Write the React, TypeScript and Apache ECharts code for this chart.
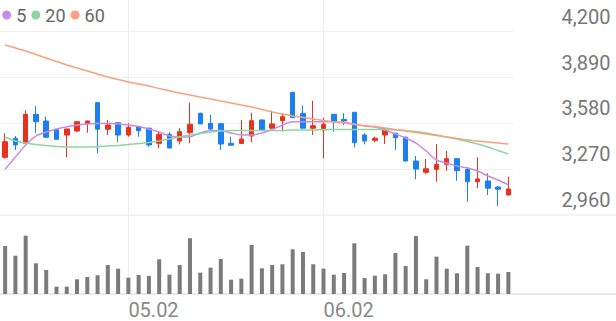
import React, { useEffect, useRef } from "react";
import * as echarts from "echarts";

const dates = [
  "04.13", "04.14", "04.17", "04.18", "04.19", "04.20", "04.21", "04.24", "04.25", "04.26",
  "04.27", "04.28", "05.02", "05.03", "05.04", "05.08", "05.09", "05.10", "05.11", "05.12",
  "05.15", "05.16", "05.17", "05.18", "05.19", "05.22", "05.23", "05.24", "05.25", "05.26",
  "06.01", "06.02", "06.05", "06.07", "06.08", "06.09", "06.12", "06.13", "06.14", "06.15",
  "06.16", "06.19", "06.20", "06.21", "06.22", "06.23", "06.26", "06.27", "06.28", "06.29",
];

const opens = [
  3350, 3479, 3445, 3641, 3596, 3540, 3501, 3528, 3579, 3720,
  3540, 3584, 3501, 3557, 3547, 3445, 3506, 3461, 3517, 3648,
  3580, 3578, 3445, 3444, 3494, 3603, 3547, 3598, 3790, 3648,
  3547, 3535, 3641, 3607, 3655, 3501, 3465, 3501, 3513, 3486,
  3325, 3249, 3269, 3303, 3341, 3269, 3185, 3190, 3149, 3095,
];
const closes = [
  3456, 3434, 3641, 3591, 3486, 3472, 3542, 3591, 3596, 3540,
  3569, 3501, 3553, 3530, 3434, 3506, 3413, 3524, 3574, 3576,
  3542, 3440, 3432, 3474, 3598, 3535, 3576, 3625, 3618, 3547,
  3564, 3574, 3591, 3596, 3449, 3461, 3479, 3544, 3483, 3325,
  3271, 3273, 3303, 3341, 3260, 3185, 3204, 3141, 3134, 3136,
];
const lows = [
  3342, 3400, 3440, 3515, 3484, 3470, 3350, 3521, 3517, 3377,
  3501, 3452, 3490, 3490, 3422, 3411, 3411, 3438, 3445, 3574,
  3530, 3400, 3430, 3442, 3452, 3533, 3545, 3524, 3616, 3545,
  3501, 3344, 3524, 3569, 3418, 3438, 3452, 3440, 3400, 3323,
  3202, 3235, 3185, 3260, 3192, 3050, 3141, 3095, 3021, 3093,
];
const highs = [
  3513, 3494, 3670, 3697, 3625, 3542, 3544, 3593, 3598, 3722,
  3603, 3586, 3580, 3564, 3551, 3524, 3520, 3547, 3720, 3652,
  3637, 3580, 3490, 3603, 3652, 3605, 3666, 3648, 3792, 3701,
  3733, 3618, 3643, 3648, 3657, 3513, 3490, 3546, 3515, 3490,
  3359, 3339, 3440, 3393, 3343, 3283, 3350, 3242, 3156, 3219,
];

const volumes = [
  120000, 95800, 145800, 76800, 60000, 18300, 18300, 36800, 42500, 46800,
  72500, 63300, 40800, 47500, 45000, 86800, 48300, 72500, 139300, 53300,
  65800, 87500, 35800, 38300, 122500, 64300, 72500, 74300, 111800, 105000,
  74300, 63300, 48300, 52500, 126800, 40000, 45800, 49300, 102500, 70000,
  145000, 36800, 93300, 63300, 51800, 120800, 67500, 51800, 50800, 55000,
];

const ma5 = [
  3269, 3352, 3434, 3494, 3521, 3542, 3557, 3569, 3576, 3579,
  3580, 3576, 3569, 3559, 3542, 3521, 3494, 3488, 3490, 3515,
  3532, 3532, 3515, 3501, 3501, 3515, 3538, 3569, 3591, 3591,
  3591, 3591, 3591, 3586, 3576, 3562, 3555, 3535, 3508, 3481,
  3447, 3393, 3332, 3312, 3291, 3278, 3258, 3224, 3197, 3163,
];
const ma20 = [
  3486, 3461, 3447, 3437, 3430, 3423, 3420, 3420, 3420, 3422,
  3427, 3430, 3437, 3444, 3450, 3461, 3474, 3488, 3501, 3511,
  3521, 3528, 3532, 3532, 3532, 3532, 3532, 3532, 3535, 3535,
  3535, 3538, 3538, 3538, 3538, 3538, 3538, 3538, 3535, 3532,
  3525, 3515, 3501, 3488, 3474, 3457, 3440, 3420, 3396, 3373,
];
const ma60 = [
  4110, 4090, 4069, 4046, 4022, 3998, 3975, 3954, 3934, 3914,
  3894, 3877, 3860, 3846, 3833, 3816, 3801, 3785, 3772, 3758,
  3745, 3731, 3718, 3704, 3691, 3674, 3657, 3643, 3630, 3620,
  3609, 3599, 3589, 3582, 3572, 3565, 3559, 3549, 3538, 3528,
  3518, 3508, 3498, 3488, 3478, 3467, 3461, 3454, 3447, 3440,
];

const maNames = ["5", "20", "60"];
const labeledDates = ["05.02", "06.02"];
const priceMin = 2960;
const priceStep = 310;

const UP = "#e8321e";
const DOWN = "#1c7ff0";
const MA_COLORS = ["#c98ae9", "#8dd6a0", "#f7a27d"];

export default function App() {
  const ref = useRef<HTMLDivElement>(null);

  useEffect(() => {
    if (!ref.current) return;
    const chart = echarts.init(ref.current, null, { renderer: "svg" });
    const candleData = opens.map((o, i) => [o, closes[i], lows[i], highs[i]]);
    const vLine = {
      symbol: "none",
      silent: true,
      z: 1,
      label: { show: false },
      lineStyle: { color: "#eeeeee", type: "solid", width: 1 },
      data: labeledDates.map((d) => ({ xAxis: d })),
    };
    const maData = [ma5, ma20, ma60];

    chart.setOption({
      animation: false,
      textStyle: { fontFamily: "Roboto" },
      legend: {
        left: 2.2,
        top: 6,
        padding: 0,
        icon: "circle",
        itemWidth: 9,
        itemHeight: 9,
        itemGap: 5,
        textStyle: { fontSize: 18, color: "#666" },
        data: maNames,
      },
      grid: [
        { left: 0, right: 102.5, top: 0, height: 215 },
        { left: 0, right: 102.5, top: 215, height: 79 },
      ],
      xAxis: [
        {
          type: "category",
          data: dates,
          gridIndex: 0,
          axisLine: { show: false },
          axisTick: { show: false },
          axisLabel: { show: false },
          splitLine: { show: false },
        },
        {
          type: "category",
          data: dates,
          gridIndex: 1,
          axisLine: { show: false },
          axisTick: { show: false },
          splitLine: { show: false },
          axisLabel: {
            interval: (_i: number, v: string) => labeledDates.includes(v),
            align: "left",
            fontSize: 20,
            color: "#888",
            margin: 6,
          },
        },
      ],
      yAxis: [
        {
          type: "value",
          gridIndex: 0,
          position: "right",
          min: priceMin,
          max: priceMin + 215 * 6.765,
          interval: priceStep,
          axisLine: { show: false },
          axisTick: { show: false },
          splitLine: { show: true, showMaxLine: false, lineStyle: { color: "#f0f0f0", width: 1 } },
          axisLabel: {
            showMaxLabel: false,
            formatter: (v: number) => Math.round(v).toLocaleString("en-US"),
            fontSize: 20,
            color: "#777",
            margin: 48,
            align: "left",
            verticalAlign: "bottom",
            lineHeight: 30,
          },
        },
        {
          type: "value",
          gridIndex: 1,
          min: 0,
          max: 197500,
          show: false,
          splitLine: { show: false },
        },
      ],
      graphic: [
        {
          type: "line",
          silent: true,
          shape: { x1: 0, y1: 215, x2: 616, y2: 215 },
          style: { stroke: "#ebebeb", lineWidth: 1 },
        },
        {
          type: "line",
          silent: true,
          shape: { x1: 0, y1: 294, x2: 616, y2: 294 },
          style: { stroke: "#e3e3e3", lineWidth: 1.5 },
        },
      ],
      series: [
        {
          type: "candlestick",
          name: "price",
          xAxisIndex: 0,
          yAxisIndex: 0,
          data: candleData,
          barWidth: 5,
          itemStyle: {
            color: UP,
            color0: DOWN,
            borderColor: UP,
            borderColor0: DOWN,
            borderWidth: 1,
          },
          markLine: vLine,
        },
        ...maNames.map((n, k) => ({
          type: "line",
          name: n,
          xAxisIndex: 0,
          yAxisIndex: 0,
          data: maData[k],
          smooth: 0.3,
          showSymbol: false,
          z: 3,
          itemStyle: { color: MA_COLORS[k] },
          lineStyle: { color: MA_COLORS[k], width: 1.5 },
        })),
        {
          type: "bar",
          name: "volume",
          xAxisIndex: 1,
          yAxisIndex: 1,
          data: volumes,
          barWidth: 4,
          itemStyle: { color: "#7b7b7b" },
          markLine: vLine,
        },
      ],
    });
    return () => chart.dispose();
  }, []);

  return (
    <div
      ref={ref}
      style={{ position: "fixed", left: 0, top: 0, width: 616, height: 321, background: "#fff" }}
    />
  );
}
